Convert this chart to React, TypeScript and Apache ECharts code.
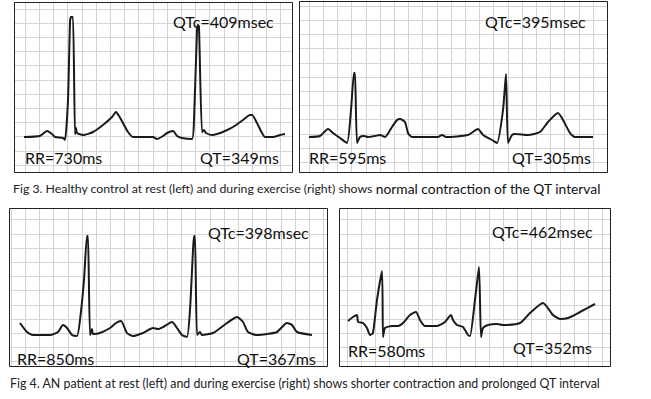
import React, { useEffect, useRef } from "react";
import * as echarts from "echarts";

// Traces: [time (px from panel left), amplitude (px above panel bottom)]
const healthyRest: number[][] = [
  [10, 35], [26, 36], [33, 41], [38, 38], [41, 35], [49, 34], [51, 32], [54, 72], [56, 150], [57, 155], [59, 155],
  [61, 38], [62, 44], [63, 39], [69, 37], [79, 40], [89, 47], [98, 55], [102, 60], [105, 56], [109, 49], [114, 40],
  [119, 35], [139, 35], [143, 33], [149, 36], [153, 39], [159, 41], [163, 36], [168, 34], [178, 33], [180, 52],
  [183, 142], [184, 147], [185, 145], [188, 40], [190, 42], [192, 39], [198, 37], [203, 38], [211, 41], [219, 45],
  [229, 52], [236, 57], [238, 57], [243, 49], [248, 39], [251, 35], [259, 35], [266, 37], [271, 38],
];
const healthyExercise: number[][] = [
  [10, 35], [21, 36], [29, 43], [34, 39], [41, 34], [48, 29], [52, 62], [55, 99], [56, 99], [58, 29], [61, 35],
  [65, 36], [69, 35], [76, 36], [81, 37], [86, 35], [93, 45], [98, 52], [101, 53], [106, 50], [109, 39], [113, 35],
  [139, 35], [143, 37], [147, 35], [169, 37], [179, 43], [184, 37], [193, 32], [198, 29], [204, 62], [207, 98],
  [209, 29], [213, 37], [216, 38], [229, 37], [241, 40], [249, 50], [259, 59], [264, 52], [271, 39], [276, 35],
  [294, 35],
];
const anRest: number[][] = [
  [11, 43], [18, 34], [24, 31], [41, 31], [49, 34], [54, 41], [58, 38], [63, 31], [68, 30], [71, 46], [75, 86],
  [78, 130], [79, 130], [81, 31], [83, 37], [84, 32], [91, 33], [101, 38], [107, 43], [112, 45], [118, 33], [124, 30],
  [134, 33], [144, 38], [149, 37], [154, 39], [163, 44], [168, 38], [173, 31], [178, 29], [181, 56], [184, 116],
  [185, 130], [186, 130], [188, 31], [191, 34], [193, 31], [204, 33], [218, 43], [228, 49], [234, 44], [239, 34],
  [248, 31], [258, 32], [268, 34], [278, 43], [283, 41], [288, 34], [303, 31],
];
const anExercise: number[][] = [
  [9, 45], [14, 49], [18, 51], [19, 44], [24, 43], [28, 38], [31, 31], [34, 33], [38, 66], [43, 95], [44, 29],
  [46, 38], [53, 40], [59, 40], [64, 43], [71, 51], [77, 54], [81, 46], [86, 40], [98, 40], [106, 44], [112, 51],
  [114, 46], [118, 41], [124, 39], [129, 31], [131, 30], [136, 66], [140, 99], [142, 29], [144, 38], [149, 41],
  [158, 42], [164, 41], [181, 43], [191, 53], [204, 63], [214, 51], [221, 47], [229, 48], [241, 54], [256, 62],
];

const qtcLabels = ["QTc=409msec", "QTc=395msec", "QTc=398msec", "QTc=462msec"];
const rrLabels = ["RR=730ms", "RR=595ms", "RR=850ms", "RR=580ms"];
const qtLabels = ["QT=349ms", "QT=305ms", "QT=367ms", "QT=352ms"];
const caption3a = "Fig 3. Healthy control at rest (left) and during exercise (right) shows ";
const caption3b = "normal contraction of the QT interval";
const caption4 = "Fig 4. AN patient at rest (left) and during exercise (right) shows shorter contraction and prolonged QT interval";

const traces = [healthyRest, healthyExercise, anRest, anExercise];

// layout (px)
const BOX = 14.2;
const panels = [
  { left: 14, top: 2, width: 278, height: 170, xOff: 11, yOff: 6.9,
    qtc: [173, 21], rr: [25, 157], qt: [200, 157] },
  { left: 299, top: 1, width: 308, height: 171, xOff: 10, yOff: 9.8,
    qtc: [485, 21], rr: [309, 157], qt: [512, 157] },
  { left: 9, top: 208, width: 318, height: 158, xOff: 2, yOff: 4.3,
    qtc: [208, 232], rr: [17, 358], qt: [237, 358] },
  { left: 339, top: 208, width: 271, height: 158, xOff: 8, yOff: 4.3,
    qtc: [492, 231], rr: [348, 350], qt: [513, 347] },
];

const FONT = "Lato, 'Open Sans', sans-serif";

export default function App() {
  const ref = useRef<HTMLDivElement>(null);
  useEffect(() => {
    if (!ref.current) return;
    const chart = echarts.init(ref.current, undefined, { renderer: "svg" });
    const grid: any[] = [];
    const xAxis: any[] = [];
    const yAxis: any[] = [];
    const series: any[] = [];
    const graphic: any[] = [];
    panels.forEach((p, i) => {
      grid.push({ left: p.left, top: p.top, width: p.width, height: p.height, show: true, backgroundColor: "#fff", borderWidth: 0 });
      const hidden = { axisLine: { show: false }, axisTick: { show: false }, axisLabel: { show: false } };
      // grid-line axes (10 units = one box)
      xAxis.push({
        type: "value", gridIndex: i, ...hidden,
        min: (-p.xOff / BOX) * 10, max: ((p.width - p.xOff) / BOX) * 10,
        splitNumber: Math.round(p.width / BOX), minInterval: 10, maxInterval: 10,
        splitLine: { show: true, lineStyle: { color: "#d4d4d4", width: 1 } },
      });
      yAxis.push({
        type: "value", gridIndex: i, ...hidden,
        min: (-p.yOff / BOX) * 10, max: ((p.height - p.yOff) / BOX) * 10,
        splitNumber: Math.round(p.height / BOX), minInterval: 10, maxInterval: 10,
        splitLine: { show: true, lineStyle: { color: "#d4d4d4", width: 1 } },
      });
      // data axes
      xAxis.push({ type: "value", gridIndex: i, show: false, min: 0, max: p.width, splitLine: { show: false } });
      yAxis.push({ type: "value", gridIndex: i, show: false, min: 0, max: p.height, splitLine: { show: false } });
      series.push({
        type: "line", xAxisIndex: i * 2 + 1, yAxisIndex: i * 2 + 1, data: traces[i],
        showSymbol: false, smooth: 0.2, clip: false,
        lineStyle: { color: "#1a1a1a", width: 2 }, z: 3,
      });
      graphic.push({
        type: "rect", shape: { x: p.left + 0.5, y: p.top + 0.5, width: p.width, height: p.height },
        style: { fill: "none", stroke: "#222", lineWidth: 1 }, z: 10,
      });
      const txt = (s: string, pos: number[]) => ({
        type: "text", x: pos[0], y: pos[1], z: 11,
        style: { text: s, font: `16px ${FONT}`, fill: "#111", verticalAlign: "middle", align: "left" },
      });
      graphic.push(txt(qtcLabels[i], p.qtc), txt(rrLabels[i], p.rr), txt(qtLabels[i], p.qt));
    });
    graphic.push({
      type: "text", x: 13, y: 188, z: 11,
      style: {
        text: `{a|${caption3a}}{b|${caption3b}}`, verticalAlign: "middle", fill: "#222",
        rich: { a: { fontSize: 12.3, fontFamily: FONT, fill: "#222" }, b: { fontSize: 13.8, fontFamily: FONT, fill: "#111" } },
      },
    });
    graphic.push({
      type: "text", x: 10, y: 383, z: 11,
      style: { text: caption4, font: `12.4px ${FONT}`, fill: "#222", verticalAlign: "middle" },
    });
    chart.setOption({ animation: false, backgroundColor: "#fff", grid, xAxis, yAxis, series, graphic });
    return () => chart.dispose();
  }, []);
  return <div ref={ref} style={{ position: "fixed", left: 0, top: 0, width: 651, height: 399 }} />;
}
